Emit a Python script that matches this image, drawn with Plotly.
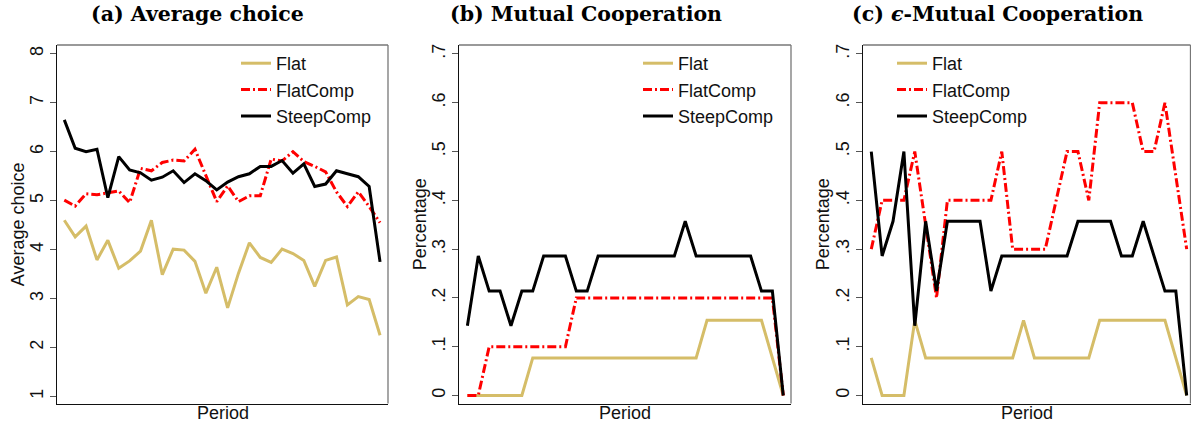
import plotly.graph_objects as go

# ---------------- data ----------------
periods = list(range(1, 31))
series_names = ["Flat", "FlatComp", "SteepComp"]

# (a) Average choice
flat_avg = [4.60, 4.26, 4.48, 3.79, 4.19, 3.62, 3.77, 3.97, 4.60, 3.49,
            4.01, 3.99, 3.76, 3.11, 3.64, 2.81, 3.52, 4.14, 3.84, 3.74,
            4.01, 3.92, 3.78, 3.25, 3.78, 3.85, 2.87, 3.04, 2.98, 2.25]
flatcomp_avg = [5.01, 4.89, 5.14, 5.12, 5.16, 5.20, 4.96, 5.66, 5.61, 5.78,
                5.83, 5.81, 6.05, 5.52, 4.98, 5.30, 4.98, 5.10, 5.10, 5.85,
                5.81, 6.00, 5.80, 5.70, 5.59, 5.18, 4.88, 5.18, 4.88, 4.55]
steepcomp_avg = [6.65, 6.07, 6.00, 6.05, 5.06, 5.90, 5.63, 5.57, 5.42, 5.48,
                 5.61, 5.37, 5.55, 5.41, 5.22, 5.38, 5.49, 5.55, 5.70, 5.70,
                 5.82, 5.56, 5.75, 5.29, 5.34, 5.61, 5.55, 5.49, 5.29, 3.75]

# (b) Mutual Cooperation
flat_mc = [0, 0, 0, 0, 0, 0, .077, .077, .077, .077,
           .077, .077, .077, .077, .077, .077, .077, .077, .077, .077,
           .077, .077, .154, .154, .154, .154, .154, .154, .077, 0]
flatcomp_mc = [0, 0, .1, .1, .1, .1, .1, .1, .1, .1,
               .2, .2, .2, .2, .2, .2, .2, .2, .2, .2,
               .2, .2, .2, .2, .2, .2, .2, .2, .2, 0]
steepcomp_mc = [.143, .286, .214, .214, .143, .214, .214, .286, .286, .286,
                .214, .214, .286, .286, .286, .286, .286, .286, .286, .286,
                .357, .286, .286, .286, .286, .286, .286, .214, .214, 0]

# (c) epsilon-Mutual Cooperation
flat_emc = [.077, 0, 0, 0, .154, .077, .077, .077, .077, .077,
            .077, .077, .077, .077, .154, .077, .077, .077, .077, .077,
            .077, .154, .154, .154, .154, .154, .154, .154, .077, 0]
flatcomp_emc = [.3, .4, .4, .4, .5, .35, .2, .4, .4, .4,
                .4, .4, .5, .3, .3, .3, .3, .4, .5, .5,
                .4, .6, .6, .6, .6, .5, .5, .6, .45, .3]
steepcomp_emc = [.5, .286, .357, .5, .143, .357, .214, .357, .357, .357,
                 .357, .214, .286, .286, .286, .286, .286, .286, .286, .357,
                 .357, .357, .357, .286, .286, .357, .286, .214, .214, 0]

avg_tickvals = [1, 2, 3, 4, 5, 6, 7, 8]
avg_ticktext = ["1", "2", "3", "4", "5", "6", "7", "8"]
pct_tickvals = [0, 0.1, 0.2, 0.3, 0.4, 0.5, 0.6, 0.7]
pct_ticktext = ["0", ".1", ".2", ".3", ".4", ".5", ".6", ".7"]

panel_titles = ["<b>(a) Average choice</b>", "<b>(b) Mutual Cooperation</b>",
                "<b>(c) <i>ϵ</i>-Mutual Cooperation</b>"]
y_titles = ["Average choice", "Percentage", "Percentage"]
x_title = "Period"

# ---------------- styling / layout ----------------
W, H = 1191, 426
colors = ["#D5BD68", "#FF0000", "#000000"]
dashes = ["solid", "9px,3px,2px,3px", "solid"]
SANS = "Liberation Sans, Arial, sans-serif"
SERIF = "DejaVu Serif, serif"

def fx(p):
    return p / W

def fy(p):
    return 1 - p / H

panels = [
    dict(data=[flat_avg, flatcomp_avg, steepcomp_avg], px=(57, 388), xr=[0.33, 30.73],
         yr=[0.857, 8.18], tv=avg_tickvals, tt=avg_ticktext, tcx=198, ytx=18, legx=236),
    dict(data=[flat_mc, flatcomp_mc, steepcomp_mc], px=(459, 791), xr=[0.23, 30.71],
         yr=[-0.0164, 0.7184], tv=pct_tickvals, tt=pct_ticktext, tcx=586, ytx=420, legx=638),
    dict(data=[flat_emc, flatcomp_emc, steepcomp_emc], px=(863, 1190.5), xr=[0.24, 30.35],
         yr=[-0.0164, 0.7184], tv=pct_tickvals, tt=pct_ticktext, tcx=997, ytx=823, legx=892),
]

PT, PB = 45, 403.5

fig = go.Figure()
annotations = []
shapes = []
layout_axes = {}

for i, p in enumerate(panels):
    n = i + 1
    xa = "x" if n == 1 else f"x{n}"
    ya = "y" if n == 1 else f"y{n}"
    leg = "legend" if n == 1 else f"legend{n}"
    for s, name in enumerate(series_names):
        fig.add_trace(go.Scatter(
            x=periods, y=p["data"][s], mode="lines", name=name,
            line=dict(color=colors[s], width=3, dash=dashes[s]),
            xaxis=xa, yaxis=ya, legend=leg, showlegend=True))
    xkey = "xaxis" if n == 1 else f"xaxis{n}"
    ykey = "yaxis" if n == 1 else f"yaxis{n}"
    layout_axes[xkey] = dict(
        domain=[fx(p["px"][0]), fx(p["px"][1])], range=p["xr"], anchor=ya,
        showgrid=False, zeroline=False, showticklabels=False, ticks="",
        showline=True, linecolor="#111", linewidth=1.3)
    layout_axes[ykey] = dict(
        domain=[fy(PB), fy(PT)], range=p["yr"], anchor=xa,
        showgrid=False, zeroline=False, tickvals=p["tv"], ticktext=p["tt"],
        ticks="outside", ticklen=6, tickwidth=1, tickcolor="#555",
        tickangle=-90, tickfont=dict(family=SANS, size=18, color="#111"),
        showline=True, linecolor="#111", linewidth=1.3)
    layout_axes[leg] = dict(
        x=fx(p["legx"]), y=fy(45), xanchor="left", yanchor="top",
        bgcolor="rgba(0,0,0,0)", borderwidth=0,
        font=dict(family=SANS, size=18, color="#111"),
        tracegroupgap=0, itemwidth=30)
    # top and right frame lines (gray)
    shapes.append(dict(type="line", xref=f"{xa} domain", yref=f"{ya} domain",
                       x0=0, x1=1, y0=1, y1=1, line=dict(color="#777", width=1.3)))
    shapes.append(dict(type="line", xref=f"{xa} domain", yref=f"{ya} domain",
                       x0=1, x1=1, y0=0, y1=1, line=dict(color="#777", width=1.3)))
    # panel title
    annotations.append(dict(text=panel_titles[i], x=fx(p["tcx"]), y=fy(14),
                            xref="paper", yref="paper", showarrow=False,
                            xanchor="center", yanchor="middle",
                            font=dict(family=SERIF, size=20.5, color="#000")))
    # y title
    annotations.append(dict(text=y_titles[i], x=fx(p["ytx"]), y=fy((PT + PB) / 2),
                            xref="paper", yref="paper", showarrow=False, textangle=-90,
                            xanchor="center", yanchor="middle",
                            font=dict(family=SANS, size=18, color="#111")))
    # x title
    annotations.append(dict(text=x_title, x=fx((p["px"][0] + p["px"][1]) / 2), y=fy(413),
                            xref="paper", yref="paper", showarrow=False,
                            xanchor="center", yanchor="middle",
                            font=dict(family=SANS, size=18, color="#111")))

fig.update_layout(
    width=W, height=H, margin=dict(l=0, r=0, t=0, b=0),
    paper_bgcolor="white", plot_bgcolor="white",
    annotations=annotations, shapes=shapes, **layout_axes)

fig.write_html("out.html")
